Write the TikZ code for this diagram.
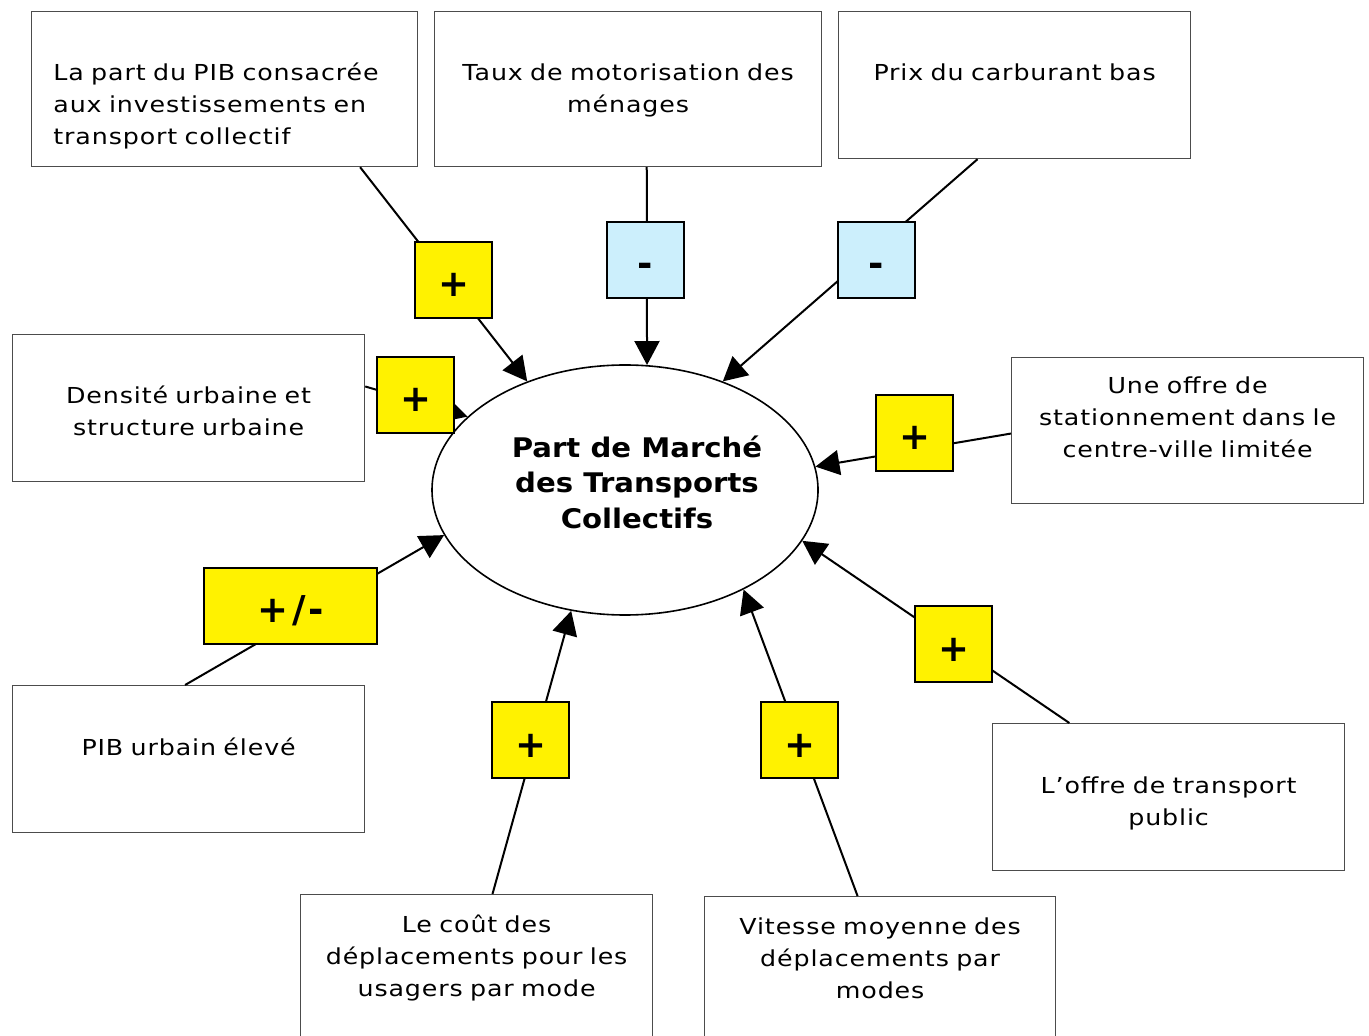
\documentclass[tikz,border=0pt]{standalone}
\usepackage{fontspec}
\setmainfont{DejaVu Sans}
\newfontfamily\boxfont{DejaVu Sans}[FakeStretch=1.15,LetterSpace=4]
\newfontfamily\hubfont{DejaVu Sans}[FakeStretch=1.08]
\usetikzlibrary{arrows.meta,calc,shapes.geometric}

\begin{document}
\begin{tikzpicture}[x=0.5pt,y=-0.5pt,
    box/.style={draw=black!70,line width=0.6pt,anchor=north west,inner sep=0pt},
    txt/.style={anchor=base,align=center,text width=190pt,inner sep=0pt,font=\boxfont\fontsize{11}{16}\selectfont},
    sgnp/.style={draw,line width=1pt,fill=yellow,minimum width=38.5pt,minimum height=38pt,inner sep=0pt,
        text height=17pt,text depth=0pt,font=\bfseries\fontsize{18.5}{18.5}\selectfont},
    sgnm/.style={sgnp,fill=cyan!20},
    arr/.style={line width=1pt,-{Triangle[length=12pt,width=12.5pt]}}]
    \useasboundingbox (0,0) rectangle (1369,1036);

    \node[box,minimum width=193pt,minimum height=77.5pt] (b1) at (31,11) {};
    \node[box,minimum width=193.5pt,minimum height=77.5pt] (b2) at (434,11) {};
    \node[box,minimum width=176pt,minimum height=73.5pt] (b3) at (838,11) {};
    \node[box,minimum width=176pt,minimum height=73.5pt] (b4) at (12,334) {};
    \node[box,minimum width=176pt,minimum height=73pt] (b5) at (1011,357) {};
    \node[box,minimum width=176pt,minimum height=73.5pt] (b6) at (12,685) {};
    \node[box,minimum width=176pt,minimum height=73.5pt] (b7) at (992,723) {};
    \node[box,minimum width=176pt,minimum height=75pt] (b8) at (300,894) {};
    \node[box,minimum width=175.5pt,minimum height=75pt] (b9) at (704,896) {};

    \node[txt,anchor=base west,align=left] (t1) at ($(b1.north west)+(22,70)$) {La part du PIB consacrée\\aux investissements en\\transport collectif};
    \node[txt] (t2) at ($(b2.north)+(0,70)$) {Taux de motorisation des\\ménages};
    \node[txt] (t3) at ($(b3.north)+(0,70)$) {Prix du carburant bas};
    \node[txt] (t4) at ($(b4.north)+(0,70)$) {Densité urbaine et\\structure urbaine};
    \node[txt] (t5) at ($(b5.north)+(0,37)$) {Une offre de\\stationnement dans le\\centre-ville limitée};
    \node[txt] (t6) at ($(b6.north)+(0,70)$) {PIB urbain élevé};
    \node[txt] (t7) at ($(b7.north)+(0,70)$) {L’offre de transport\\public};
    \node[txt] (t8) at ($(b8.north)+(0,38)$) {Le coût des\\déplacements pour les\\usagers par mode};
    \node[txt] (t9) at ($(b9.north)+(0,38)$) {Vitesse moyenne des\\déplacements par\\modes};

    \node[draw,ellipse,line width=0.8pt,minimum width=193pt,minimum height=125pt,inner sep=0pt] (e) at (625,490) {};
    \node[align=center,font=\hubfont\bfseries\fontsize{13.5}{17.75}\selectfont] (et) at ($(e)+(12,-8)$) {Part de Marché\\des Transports\\Collectifs};

    \draw[arr] ($(b1.south west)!0.85!(b1.south east)$) -- (e.132);
    \draw[arr] ($(b2.south west)!0.548!(b2.south east)$) -- (e.80);
    \draw[arr] ($(b3.south west)!0.395!(b3.south east)$) -- (e.48);
    \draw[arr] ($(b4.north east)!0.354!(b4.south east)$) -- (e.155);
    \draw[arr] ($(b5.north west)!0.52!(b5.south west)$) -- (e.7);
    \draw[arr] ($(b6.north west)!0.49!(b6.north east)$) -- (e.194);
    \draw[arr] ($(b7.north west)!0.219!(b7.north east)$) -- (e.344);
    \draw[arr] ($(b8.north west)!0.545!(b8.north east)$) -- (e.246);
    \draw[arr] ($(b9.north west)!0.436!(b9.north east)$) -- (e.320);

    \node[sgnp] (s1) at (453.5,280) {+};
    \node[sgnm] (s2) at (645.5,260) {-};
    \node[sgnm] (s3) at (876.5,260) {-};
    \node[sgnp] (s4) at (415.5,395) {+};
    \node[sgnp] (s5) at (914.5,433) {+};
    \node[sgnp,minimum width=86.5pt] (s6) at (290.5,606) {+\kern2pt/\kern1pt-};
    \node[sgnp] (s7) at (953.5,644) {+};
    \node[sgnp] (s8) at (530.5,740) {+};
    \node[sgnp] (s9) at (799.5,740) {+};
\end{tikzpicture}
\end{document}
